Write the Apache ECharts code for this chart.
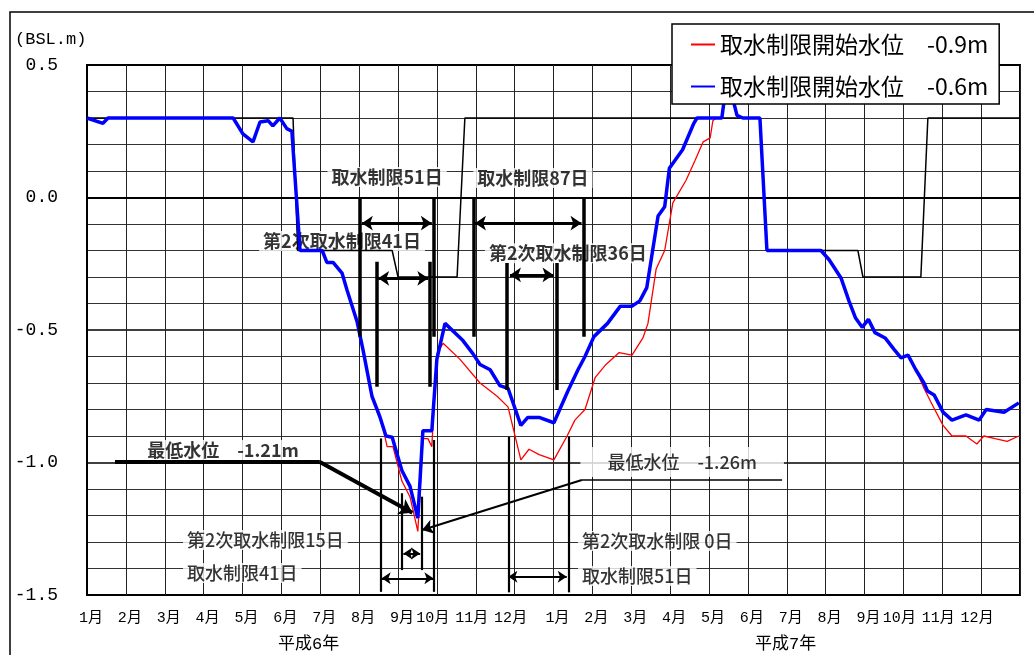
<!DOCTYPE html>
<html>
<head>
<meta charset="utf-8">
<title>水位の推移</title>
<script src="https://cdn.jsdelivr.net/npm/echarts@6.0.0/dist/echarts.min.js"></script>
<style>
html, body { margin: 0; padding: 0; background: #fff; }
#chart { width: 1034px; height: 655px; }
</style>
</head>
<body>
<div id="chart"></div>
<script>
// x は月単位 (0 = 平成6年1月初め, 24 = 平成7年12月末)、y は水位 (BSL.m)
const months = ['1月', '2月', '3月', '4月', '5月', '6月', '7月', '8月', '9月', '10月', '11月', '12月'];
const years = ['平成6年', '平成7年'];
const seriesNames = ['取水制限開始水位　-0.9m', '取水制限開始水位　-0.6m'];

// 黒線 (制限水位)
const ruleCurve = [
  [0, 0.30], [5.30, 0.30], [5.42, -0.20], [7.85, -0.20], [8.00, -0.30], [9.52, -0.30],
  [9.72, 0.30], [17.31, 0.30], [17.49, -0.20], [19.83, -0.20], [19.96, -0.30],
  [21.45, -0.30], [21.63, 0.30], [24, 0.30]
];

// 赤線 -0.9m
const level09 = [
  [0, 0.30], [0.41, 0.28], [0.54, 0.30], [3.76, 0.30], [4.01, 0.24], [4.27, 0.21], [4.45, 0.285],
  [4.66, 0.29], [4.78, 0.27], [4.96, 0.30], [5.14, 0.26], [5.27, 0.25], [5.48, -0.20], [6.05, -0.20],
  [6.17, -0.245], [6.33, -0.245], [6.56, -0.285], [6.69, -0.35], [6.95, -0.47], [7.10, -0.575],
  [7.33, -0.75], [7.54, -0.84], [7.63, -0.88], [7.72, -0.94], [7.87, -0.94], [8.10, -1.07],
  [8.31, -1.13], [8.51, -1.26], [8.64, -0.91], [8.77, -0.91], [8.87, -0.94], [9.00, -0.59],
  [9.16, -0.55], [9.59, -0.61], [10.11, -0.70], [10.55, -0.75], [10.83, -0.79], [11.16, -0.99],
  [11.37, -0.95], [11.63, -0.97], [12.01, -0.99], [12.35, -0.90], [12.55, -0.84], [12.81, -0.80],
  [13.07, -0.68], [13.35, -0.63], [13.69, -0.585], [14.02, -0.595], [14.30, -0.53], [14.43, -0.475],
  [14.64, -0.27], [14.86, -0.20], [15.07, -0.02], [15.41, 0.065], [15.64, 0.14], [15.85, 0.21],
  [16.03, 0.225], [16.10, 0.29], [16.18, 0.30], [16.33, 0.30], [16.42, 0.40], [16.60, 0.38],
  [16.72, 0.31], [16.87, 0.30], [17.31, 0.30], [17.49, -0.20], [18.88, -0.20], [19.09, -0.235],
  [19.40, -0.305], [19.60, -0.39], [19.77, -0.455], [19.94, -0.49], [20.10, -0.46], [20.27, -0.51],
  [20.53, -0.53], [20.77, -0.575], [20.94, -0.605], [21.12, -0.595], [21.32, -0.65], [21.53, -0.72],
  [21.70, -0.77], [22.02, -0.86], [22.25, -0.90], [22.61, -0.90], [22.89, -0.93], [23.07, -0.90],
  [23.36, -0.91], [23.67, -0.92], [23.97, -0.90]
];

// 青線 -0.6m
const level06 = [
  [0, 0.30], [0.41, 0.28], [0.54, 0.30], [3.76, 0.30], [4.01, 0.24], [4.27, 0.21], [4.45, 0.285],
  [4.66, 0.29], [4.78, 0.27], [4.96, 0.30], [5.14, 0.26], [5.27, 0.25], [5.48, -0.20], [6.05, -0.20],
  [6.17, -0.245], [6.33, -0.245], [6.56, -0.285], [6.69, -0.35], [6.95, -0.47], [7.10, -0.575],
  [7.33, -0.75], [7.54, -0.83], [7.69, -0.90], [7.85, -0.905], [8.10, -1.03], [8.31, -1.09],
  [8.51, -1.21], [8.64, -0.88], [8.87, -0.88], [9.00, -0.61], [9.21, -0.475], [9.67, -0.54],
  [9.93, -0.59], [10.11, -0.63], [10.37, -0.65], [10.62, -0.71], [10.83, -0.72], [11.16, -0.86],
  [11.34, -0.83], [11.63, -0.83], [12.01, -0.85], [12.37, -0.73], [12.63, -0.65], [12.81, -0.60],
  [13.04, -0.525], [13.39, -0.475], [13.72, -0.41], [14.02, -0.41], [14.22, -0.39], [14.40, -0.34],
  [14.69, -0.07], [14.86, -0.035], [14.98, 0.11], [15.32, 0.18], [15.61, 0.28], [15.69, 0.30],
  [16.33, 0.30], [16.42, 0.40], [16.60, 0.38], [16.72, 0.31], [16.87, 0.30], [17.31, 0.30],
  [17.49, -0.20], [18.88, -0.20], [19.09, -0.235], [19.40, -0.305], [19.60, -0.39], [19.77, -0.455],
  [19.94, -0.49], [20.10, -0.46], [20.27, -0.51], [20.53, -0.53], [20.77, -0.575], [20.94, -0.605],
  [21.12, -0.595], [21.32, -0.65], [21.53, -0.70], [21.62, -0.73], [21.79, -0.745], [22.02, -0.81],
  [22.25, -0.84], [22.61, -0.82], [22.95, -0.84], [23.13, -0.80], [23.59, -0.81], [23.97, -0.775]
];

// 注記: 縦棒 [x, y上, y下]
const barsUpper = [
  [7.02, 0, -0.525], [8.91, 0, -0.525], [9.94, 0, -0.525], [12.77, 0, -0.525],
  [7.45, -0.242, -0.714], [8.82, -0.242, -0.714], [10.80, -0.247, -0.726], [12.09, -0.247, -0.726]
];
const barsLower = [
  [8.09, -1.116, -1.406], [8.61, -1.129, -1.406], [7.56, -0.909, -1.488], [8.91, -0.915, -1.488],
  [10.86, -0.903, -1.49], [12.40, -0.903, -1.49]
];
// 期間の矢印 [y, x始, x終]
const spansUpper = [[-0.097, 7.07, 8.87], [-0.097, 9.98, 12.72], [-0.305, 7.49, 8.78], [-0.292, 10.88, 12.0]];
const spansLower = [[-1.343, 8.14, 8.57], [-1.437, 7.58, 8.91], [-1.431, 10.84, 12.34]];
// 最低水位の引出線 [[x, y], [x, y]]
const leader121 = [[[0.72, -0.998], [5.99, -0.998]], [[5.99, -0.998], [8.37, -1.19]]];
const leader126 = [[[17.88, -1.066], [12.73, -1.066]], [[12.73, -1.066], [8.62, -1.255]]];

// 注記の文字 [文字, x, y]
const notesBold = [
  ['取水制限51日', 7.72, 0.077], ['第2次取水制限41日', 6.56, -0.164],
  ['取水制限87日', 11.47, 0.074], ['第2次取水制限36日', 12.37, -0.21],
  ['最低水位　-1.21m', 3.50, -0.953]
];
const notesLeft = [
  ['第2次取水制限15日', 2.47, -1.292], ['取水制限41日', 2.47, -1.417],
  ['第2次取水制限 0日', 12.63, -1.296], ['取水制限51日', 12.63, -1.428]
];
const noteMin126 = ['最低水位　-1.26m', 15.31, -0.998];

const mono = '"Liberation Mono", "Noto Sans CJK JP", monospace';
const gothic = '"Noto Sans CJK JP", sans-serif';

const vbars = list => list.map(b => ({ coords: [[b[0], b[1]], [b[0], b[2]]] }));
const hspans = list => list.map(s => ({ coords: [[s[1], s[0]], [s[2], s[0]]] }));
const segs = list => list.map(s => ({ coords: s }));

const chart = echarts.init(document.getElementById('chart'));

const option = {
  animation: false,
  backgroundColor: '#fff',
  grid: { left: 87, top: 65, right: 14, bottom: 60, show: true, borderColor: '#000', borderWidth: 2 },
  legend: {
    data: seriesNames,
    orient: 'vertical',
    left: 672,
    top: 24,
    padding: [9, 11, 6, 18],
    itemGap: 19,
    itemWidth: 24,
    itemHeight: 14,
    itemStyle: { opacity: 0, borderWidth: 0 },
    backgroundColor: '#fff',
    borderColor: '#000',
    borderWidth: 1.5,
    textStyle: { fontSize: 23, fontFamily: gothic, color: '#000' },
    z: 10
  },
  xAxis: {
    type: 'value',
    min: 0,
    max: 24,
    interval: 1,
    axisLine: { show: true, lineStyle: { color: '#000', width: 2 } },
    axisTick: { show: false },
    splitLine: { show: true, lineStyle: { color: '#222', width: 1 } },
    axisLabel: {
      margin: 16,
      color: '#000',
      fontFamily: mono,
      fontSize: 15,
      formatter: function (v) {
        if (v >= 24) return '';
        const m = months[v % 12];
        return m.length > 2 ? '{w|' + m + '}' : '{n|' + m + '}';
      },
      rich: {
        n: { fontFamily: mono, fontSize: 15, color: '#000', padding: [0, 0, 0, 8] },
        w: { fontFamily: mono, fontSize: 15, color: '#000', padding: [0, 8, 0, 0] }
      }
    }
  },
  yAxis: {
    type: 'value',
    min: -1.5,
    max: 0.5,
    interval: 0.5,
    axisLine: { show: true, lineStyle: { color: '#000', width: 2 } },
    axisTick: { show: false },
    splitLine: { show: true, lineStyle: { color: '#000', width: 1.5 } },
    minorTick: { show: false, splitNumber: 5 },
    minorSplitLine: { show: true, lineStyle: { color: '#333', width: 1 } },
    axisLabel: {
      margin: 29,
      color: '#000',
      fontFamily: '"Liberation Mono", monospace',
      fontSize: 18,
      formatter: v => v.toFixed(1)
    }
  },
  graphic: [
    { type: 'rect', silent: true, shape: { x: 10, y: 12, width: 1100, height: 700 },
      style: { fill: 'none', stroke: '#000', lineWidth: 1.5 } },
    { type: 'text', left: 15, top: 31, silent: true,
      style: { text: '(BSL.m)', font: '17px "Liberation Mono"', fill: '#000' } },
    { type: 'text', left: 278, top: 636, silent: true,
      style: { text: years[0], font: '17px "Liberation Mono", "Noto Sans CJK JP"', fill: '#000' } },
    { type: 'text', left: 755, top: 636, silent: true,
      style: { text: years[1], font: '17px "Liberation Mono", "Noto Sans CJK JP"', fill: '#000' } }
  ],
  series: [
    {
      name: 'rule', type: 'line', data: ruleCurve, symbol: 'none', silent: true, z: 2,
      lineStyle: { color: '#000', width: 1.5 }
    },
    {
      name: seriesNames[0], type: 'line', data: level09, symbol: 'none', z: 3,
      lineStyle: { color: '#ff0000', width: 1.3 }, itemStyle: { color: '#ff0000' }
    },
    {
      name: seriesNames[1], type: 'line', data: level06, symbol: 'none', z: 4,
      lineStyle: { color: '#0000ff', width: 3.5 }, itemStyle: { color: '#0000ff' }
    },
    // 縦棒
    {
      type: 'lines', coordinateSystem: 'cartesian2d', silent: true, z: 5,
      lineStyle: { color: '#000', width: 3.5, opacity: 1 }, data: vbars(barsUpper)
    },
    {
      type: 'lines', coordinateSystem: 'cartesian2d', silent: true, z: 5,
      lineStyle: { color: '#000', width: 2.2, opacity: 1 }, data: vbars(barsLower)
    },
    // 両矢印
    {
      type: 'lines', coordinateSystem: 'cartesian2d', silent: true, z: 5,
      symbol: ['arrow', 'arrow'], symbolSize: 11,
      lineStyle: { color: '#000', width: 3, opacity: 1 }, data: hspans(spansUpper)
    },
    {
      type: 'lines', coordinateSystem: 'cartesian2d', silent: true, z: 5,
      symbol: ['arrow', 'arrow'], symbolSize: 9,
      lineStyle: { color: '#000', width: 2, opacity: 1 }, data: hspans(spansLower)
    },
    // 引出線
    {
      type: 'lines', coordinateSystem: 'cartesian2d', silent: true, z: 5,
      lineStyle: { color: '#000', width: 4, opacity: 1 }, data: segs([leader121[0]])
    },
    {
      type: 'lines', coordinateSystem: 'cartesian2d', silent: true, z: 5,
      symbol: ['none', 'arrow'], symbolSize: 13,
      lineStyle: { color: '#000', width: 4, opacity: 1 }, data: segs([leader121[1]])
    },
    {
      type: 'lines', coordinateSystem: 'cartesian2d', silent: true, z: 5,
      lineStyle: { color: '#000', width: 1.5, opacity: 1 }, data: segs([leader126[0]])
    },
    {
      type: 'lines', coordinateSystem: 'cartesian2d', silent: true, z: 5,
      symbol: ['none', 'arrow'], symbolSize: 11,
      lineStyle: { color: '#000', width: 2, opacity: 1 }, data: segs([leader126[1]])
    },
    // 注記の文字
    {
      type: 'scatter', silent: true, z: 1, symbolSize: 0,
      data: notesBold.map(n => ({ name: n[0], value: [n[1], n[2]] })),
      label: {
        show: true, position: 'inside', formatter: '{b}', color: '#000',
        fontFamily: gothic, fontSize: 18, fontWeight: 'bold',
        backgroundColor: '#fff', padding: [1, 4]
      }
    },
    {
      type: 'scatter', silent: true, z: 1, symbolSize: 0,
      data: notesLeft.map(n => ({ name: n[0], value: [n[1], n[2]] })),
      label: {
        show: true, position: 'right', distance: 0, formatter: '{b}', color: '#000',
        fontFamily: gothic, fontSize: 18, fontWeight: 500,
        backgroundColor: '#fff', padding: [1, 4]
      }
    },
    {
      type: 'scatter', silent: true, z: 1, symbolSize: 0,
      data: [{ name: noteMin126[0], value: [noteMin126[1], noteMin126[2]] }],
      label: {
        show: true, position: 'inside', formatter: '{b}', color: '#000',
        fontFamily: gothic, fontSize: 18, fontWeight: 500,
        backgroundColor: '#fff', padding: [6, 27, 6, 27]
      }
    }
  ]
};

chart.setOption(option);
</script>
</body>
</html>
